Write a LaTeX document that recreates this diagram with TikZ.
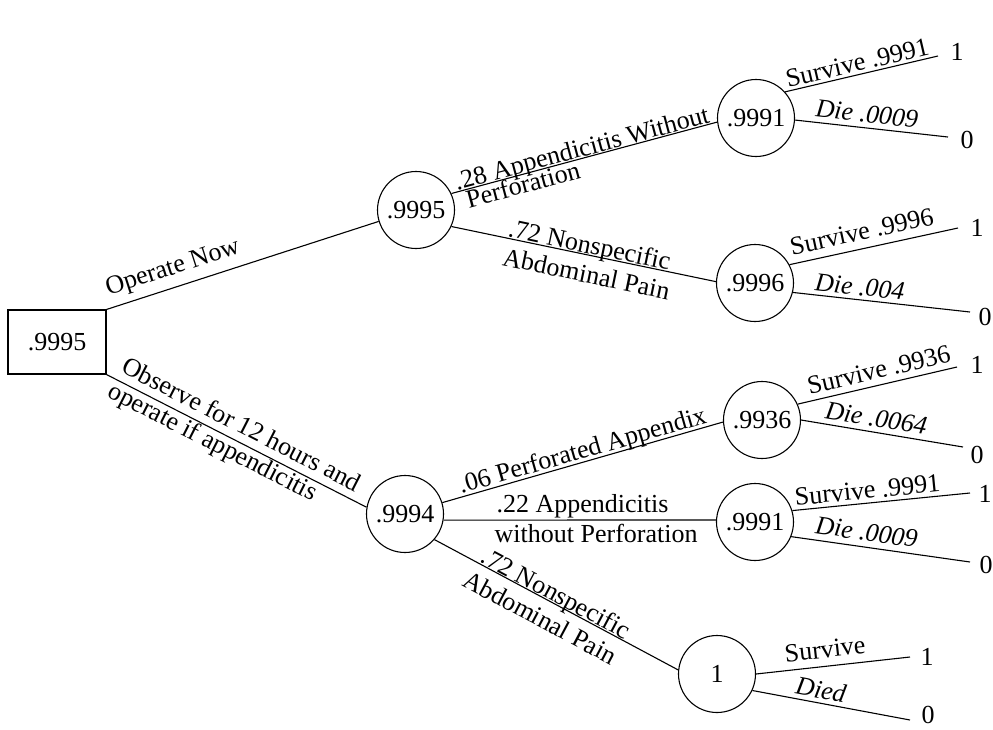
\documentclass[tikz,border=0pt]{standalone}
\usepackage{fontspec}
\setmainfont{Liberation Serif}
\begin{document}
\begin{tikzpicture}[x=1pt,y=-1pt,
  every node/.style={font=\fontsize{26}{29}\selectfont},
  chance/.style={draw, circle, minimum size=77pt, inner sep=0pt, line width=1.1pt},
  decision/.style={draw, rectangle, minimum width=98pt, minimum height=64pt, line width=1.1pt},
  branch/.style={line width=1.1pt},
  lbup/.style={sloped, anchor=south, text depth=0pt, inner xsep=0pt, inner ysep=#1},
  lbup/.default=5pt,
  lbdn/.style={sloped, anchor=north, text height=17pt, inner xsep=0pt, inner ysep=#1},
  lbdn/.default=4pt,
  die/.style={font=\fontsize{26}{29}\selectfont\itshape},
  val/.style={inner sep=0pt}]

\useasboundingbox (0,0) rectangle (993,729);

% decision and chance nodes
\node[decision] (dec) at (57,342) {.9995};
\node[chance] (c1)  at (416,210) {.9995};
\node[chance] (c2)  at (405,514) {.9994};
\node[chance] (c11) at (756,118) {.9991};
\node[chance] (c12) at (755,283) {.9996};
\node[chance] (c21) at (762,420) {.9936};
\node[chance] (c22) at (755,522) {.9991};
\node[chance] (c23) at (717,674) {1};

% free ends of the outcome branches
\coordinate (e111) at (938,56);
\coordinate (e112) at (948,137);
\coordinate (e121) at (958,228);
\coordinate (e122) at (970,312);
\coordinate (e211) at (957,367);
\coordinate (e212) at (963,447);
\coordinate (e221) at (970,493);
\coordinate (e222) at (970,562);
\coordinate (e231) at (910,657);
\coordinate (e232) at (910,720);

% terminal values
\node[val] (v111) at (957,52)  {1};
\node[val] (v112) at (967,140) {0};
\node[val] (v121) at (977,228) {1};
\node[val] (v122) at (985,317) {0};
\node[val] (v211) at (977,365) {1};
\node[val] (v212) at (977,455) {0};
\node[val] (v221) at (985,494) {1};
\node[val] (v222) at (986,565) {0};
\node[val] (v231) at (927,657) {1};
\node[val] (v232) at (928,715) {0};

% decision branches
\draw[branch] (dec.north east) -- (c1.197)
  node[lbup=12pt, pos=0.265] {Operate Now};
\draw[branch] (dec.south east) -- (c2.170)
  node[lbup=8pt, pos=0.49] {Observe for 12 hours and}
  node[lbdn=2pt, pos=0.43] {operate if appendicitis};

% chance branches after operating now
\draw[branch] (c1.25) -- (c11.186)
  node[lbup=1pt, pos=0.5] {.28 Appendicitis Without}
  node[lbdn=1pt, pos=0.26] {Perforation};
\draw[branch] (c1.335) -- (c12.178)
  node[lbup=1pt, pos=0.515] {.72 Nonspecific}
  node[lbdn=10pt, pos=0.525] {Abdominal Pain};

% chance branches after observing
\draw[branch] (c2.17) -- (c21.183)
  node[lbup=3pt, pos=0.51] {.06 Perforated Appendix};
\draw[branch] (c2.-9) -- (c22.177)
  node[lbup=7pt, pos=0.51] {.22 Appendicitis}
  node[lbdn=5pt, pos=0.56] {without Perforation};
\draw[branch] (c2.319) -- (c23.174)
  node[lbup=1pt, pos=0.48] {.72 Nonspecific}
  node[lbdn=10pt, pos=0.47] {Abdominal Pain};

% outcomes
\draw[branch] (c11.42) -- (e111) node[lbup=3pt, pos=0.49] {Survive .9991};
\draw[branch] (c11.-3) -- (e112) node[lbup=5pt, pos=0.46, die] {Die .0009};
\draw[branch] (c12.28) -- (e121) node[lbup=8pt, pos=0.45] {Survive .9996};
\draw[branch] (c12.-14) -- (e122) node[lbup=4pt, pos=0.37, die] {Die .004};
\draw[branch] (c21.24) -- (e211) node[lbup=6pt, pos=0.53] {Survive .9936};
\draw[branch] (c21.0) -- (e212) node[lbup=5pt, pos=0.45, die] {Die .0064};
\draw[branch] (c22.17) -- (e221) node[lbup=4pt, pos=0.43] {Survive .9991};
\draw[branch] (c22.-22) -- (e222) node[lbup=6pt, pos=0.41, die] {Die .0009};
\draw[branch] (c23.0) -- (e231) node[lbup=8pt, pos=0.46] {Survive};
\draw[branch] (c23.-25) -- (e232) node[lbup=4pt, pos=0.42, die] {Died};
\end{tikzpicture}
\end{document}
